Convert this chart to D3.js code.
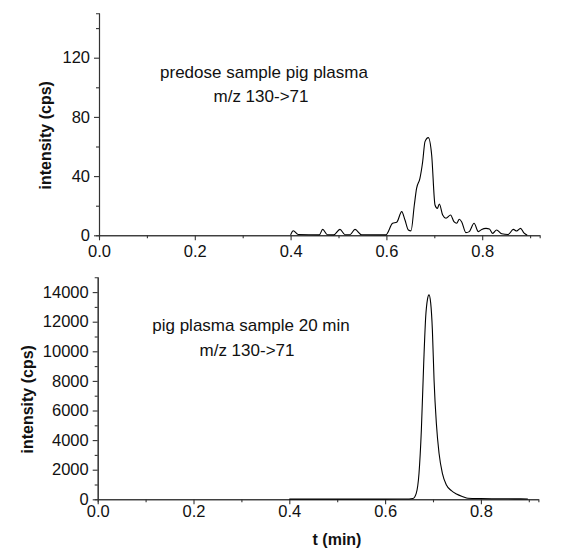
<!DOCTYPE html>
<html>
<head>
<meta charset="utf-8">
<script src="https://cdn.jsdelivr.net/npm/d3@7"></script>
<style>
  body { margin: 0; background: #fff; }
  text { font-family: 'Liberation Sans', Arial, sans-serif; fill: #111; }
</style>
</head>
<body>
<svg id="chart" width="571" height="553"></svg>
<script>
// predose trace (top)
const predoseTime = [0.400, 0.4056, 0.416, 0.460, 0.467, 0.4766, 0.490, 0.503, 0.5136, 0.524, 0.5345, 0.548,
  0.599, 0.613, 0.6215, 0.632, 0.6388, 0.6458, 0.6514, 0.6583, 0.663, 0.670, 0.6757, 0.6806, 0.6875, 0.6945,
  0.7015, 0.7063, 0.7105, 0.7175, 0.7244, 0.734, 0.741, 0.7467, 0.7522, 0.757, 0.766, 0.773, 0.783, 0.792,
  0.799, 0.808, 0.815, 0.822, 0.830, 0.8407, 0.854, 0.865, 0.872, 0.880, 0.887, 0.894];
const predoseIntensity = [0.3, 3.1, 0.5, 0.3, 4.0, 0.4, 0.3, 4.0, 0.4, 0.4, 4.0, 0.4,
  0.3, 8.1, 8.8, 16.0, 10.3, 3.6, 3.0, 20.5, 31.7, 38.5, 49.7, 63.3, 66.0, 54.3,
  20.5, 18.2, 21.1, 13.7, 11.5, 13.7, 9.2, 8.1, 10.8, 9.2, 1.8, 2.5, 8.1, 2.5,
  4.0, 4.7, 4.3, 1.3, 3.6, 1.0, 0.5, 4.0, 2.9, 4.7, 1.6, 0.0];

// 20 min sample trace (bottom)
const sampleTime = [0.400, 0.500, 0.600, 0.650, 0.658, 0.665, 0.6708, 0.6757, 0.6806, 0.6848, 0.6883, 0.6917,
  0.6952, 0.6987, 0.7022, 0.707, 0.7126, 0.7196, 0.728, 0.7384, 0.749, 0.7627, 0.773, 0.800, 0.830, 0.870, 0.898];
const sampleIntensity = [10, 10, 15, 20, 50, 405, 1758, 4686, 9195, 12346, 13475, 13810,
  13252, 11447, 8066, 5139, 3110, 1758, 967, 581, 358, 176, 70, 50, 40, 30, 20];

const xTicks = [0.0, 0.2, 0.4, 0.6, 0.8];
const xMinor = [0.1, 0.3, 0.5, 0.7, 0.9];
const topTicks = [0, 40, 80, 120];
const topMinor = [20, 60, 100, 140];
const bottomTicks = [0, 2000, 4000, 6000, 8000, 10000, 12000, 14000];
const bottomMinor = [1000, 3000, 5000, 7000, 9000, 11000, 13000];

const svg = d3.select('#chart');

const drawPanel = (opt) => {
  const x = d3.scaleLinear().domain([0, 0.92]).range([opt.left, opt.left + 0.92 * 479]);
  const y = d3.scaleLinear().domain(opt.yDomain).range([opt.bottom, opt.bottom - 222]);
  const g = svg.append('g');

  // minor ticks first, then major axis on top
  g.append('g')
      .attr('transform', `translate(0,${opt.bottom})`)
      .call(d3.axisBottom(x).tickValues(xMinor).tickSize(3).tickFormat(''));
  g.append('g')
      .attr('transform', `translate(0,${opt.bottom})`)
      .call(d3.axisBottom(x).tickValues(xTicks).tickSize(5).tickSizeOuter(0).tickPadding(opt.xPad)
        .tickFormat(d3.format('.1f')));

  g.append('g')
      .attr('transform', `translate(${opt.left},0)`)
      .call(d3.axisLeft(y).tickValues(opt.yMinor).tickSize(3).tickFormat(''));
  g.append('g')
      .attr('transform', `translate(${opt.left},0)`)
      .call(d3.axisLeft(y).tickValues(opt.yTicks).tickSize(5).tickSizeOuter(0).tickPadding(4)
        .tickFormat(d3.format('d')));

  g.selectAll('.tick text')
      .style('font-size', '16.5px')
      .style('font-family', "'Liberation Sans', Arial, sans-serif")
      .attr('fill', '#111');
  g.selectAll('.domain, .tick line')
      .attr('stroke', '#333')
      .attr('stroke-width', 1.1);

  const line = d3.line()
      .x((d) => x(d[0]))
      .y((d) => y(d[1]))
      .curve(d3.curveMonotoneX);

  g.append('path')
      .datum(d3.zip(opt.time, opt.values))
      .attr('d', line)
      .attr('fill', 'none')
      .attr('stroke', '#000')
      .attr('stroke-width', 1.1);

  g.append('text')
      .attr('transform', `translate(${opt.labelX},${opt.bottom - 100}) rotate(-90)`)
      .attr('text-anchor', 'middle')
      .style('font-size', '16px')
      .style('font-weight', 'bold')
      .text('intensity (cps)');

  opt.notes.forEach((n) => {
    g.append('text')
        .attr('x', n.x)
        .attr('y', n.y)
        .attr('text-anchor', 'middle')
        .style('font-size', '17px')
        .text(n.text);
  });
};

drawPanel({
  left: 99, bottom: 235.3, yDomain: [0, 150],
  yTicks: topTicks, yMinor: topMinor, xPad: 5,
  time: predoseTime, values: predoseIntensity, labelX: 51,
  notes: [
    { x: 264, y: 78, text: 'predose sample pig plasma' },
    { x: 261, y: 102, text: 'm/z 130->71' }
  ]
});

drawPanel({
  left: 97.7, bottom: 499.3, yDomain: [0, 15000],
  yTicks: bottomTicks, yMinor: bottomMinor, xPad: 1,
  time: sampleTime, values: sampleIntensity, labelX: 33,
  notes: [
    { x: 251, y: 331, text: 'pig plasma sample 20 min' },
    { x: 247, y: 356, text: 'm/z 130->71' }
  ]
});

svg.append('text')
    .attr('x', 337)
    .attr('y', 545)
    .attr('text-anchor', 'middle')
    .style('font-size', '16px')
    .style('font-weight', 'bold')
    .text('t (min)');
</script>
</body>
</html>
